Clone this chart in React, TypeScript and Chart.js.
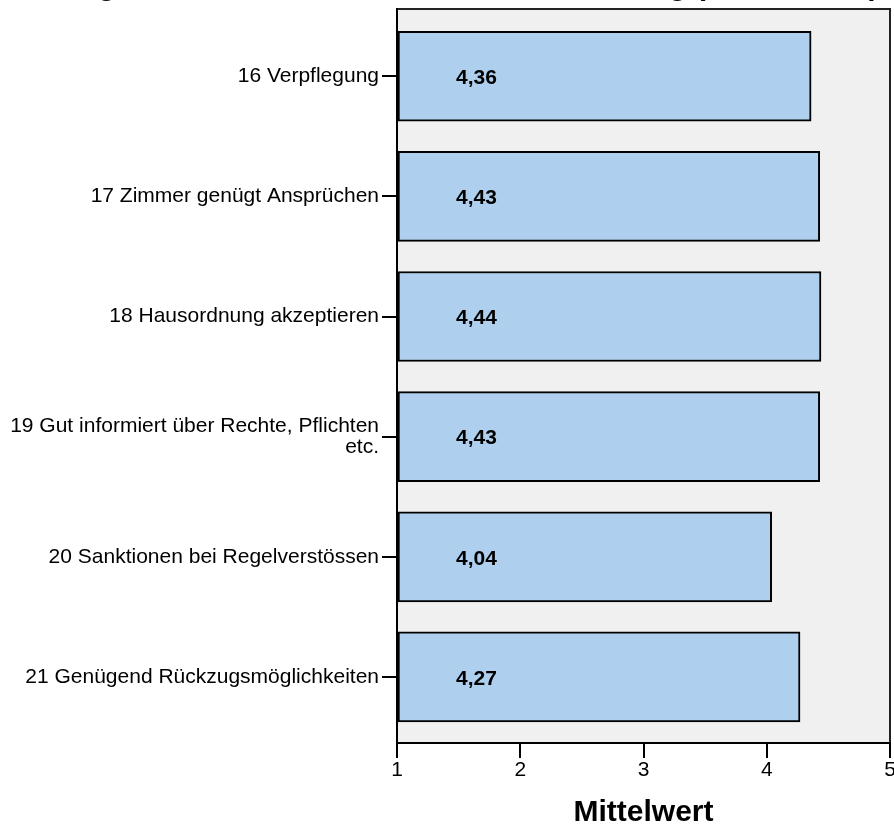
import React, { useEffect, useRef } from 'react';
import { Chart, registerables } from 'chart.js';

Chart.register(...registerables);

const FONT = '"Liberation Sans", Arial, Helvetica, sans-serif';

const titleText = 'Umfrage: Zufriedenheit mit der Wohnbetreuung (Items 16-21)';
const axisTitle = 'Mittelwert';

const categories: (string | string[])[] = [
  '16 Verpflegung',
  '17 Zimmer genügt Ansprüchen',
  '18 Hausordnung akzeptieren',
  ['19 Gut informiert über Rechte, Pflichten', 'etc.'],
  '20 Sanktionen bei Regelverstössen',
  '21 Genügend Rückzugsmöglichkeiten',
];

const means = [4.36, 4.43, 4.44, 4.43, 4.04, 4.27];

const xMin = 1;
const xMax = 5;

const framePlugin = {
  id: 'frameBg',
  beforeDraw(chart: any) {
    const { ctx, chartArea: a } = chart;
    ctx.save();
    ctx.fillStyle = '#f0f0f0';
    ctx.fillRect(a.left, a.top, a.right - a.left, a.bottom - a.top);
    ctx.strokeStyle = '#222';
    ctx.lineWidth = 2;
    ctx.strokeRect(a.left, a.top, a.right - a.left, a.bottom - a.top);
    ctx.restore();
  },
};

const valueLabelPlugin = {
  id: 'valueLabels',
  afterDatasetsDraw(chart: any) {
    const { ctx } = chart;
    const meta = chart.getDatasetMeta(0);
    const x0 = chart.scales.x.getPixelForValue(xMin) + 59;
    ctx.save();
    ctx.font = `bold 21px ${FONT}`;
    ctx.fillStyle = '#000';
    ctx.textAlign = 'left';
    ctx.textBaseline = 'middle';
    meta.data.forEach((el: any, i: number) => {
      ctx.fillText(means[i].toFixed(2).replace('.', ','), x0, el.y + 2);
    });
    ctx.restore();
  },
};

export default function App() {
  const ref = useRef<HTMLCanvasElement | null>(null);

  useEffect(() => {
    if (!ref.current) return;
    const chart = new Chart(ref.current, {
      type: 'bar',
      data: {
        datasets: [
          {
            data: means.map((v, i) => ({ x: v, y: i })),
            base: xMin,
            barThickness: 90,
            backgroundColor: '#aed0ee',
            borderColor: '#000',
            borderWidth: 2,
            borderSkipped: false,
          } as any,
        ],
      },
      options: {
        animation: false,
        responsive: false,
        maintainAspectRatio: false,
        indexAxis: 'y',
        layout: { padding: { left: 0, right: 4, top: 0, bottom: 0 } },
        plugins: {
          legend: { display: false },
          tooltip: { enabled: false },
          title: {
            display: true,
            text: titleText,
            color: '#000',
            font: { family: FONT, size: 30, weight: 'bold', lineHeight: 1.2 },
            padding: { top: 8.5, bottom: 4.5 },
          },
        },
        scales: {
          x: {
            type: 'linear',
            position: 'bottom',
            min: xMin,
            max: xMax,
            border: { display: true, color: '#000', width: 2 },
            grid: {
              display: true,
              drawOnChartArea: false,
              drawTicks: true,
              tickLength: 15,
              lineWidth: 2,
              color: '#000',
            },
            ticks: {
              stepSize: 1,
              color: '#000',
              padding: 2,
              maxRotation: 0,
              font: { family: FONT, size: 21, lineHeight: 1 },
            },
            title: {
              display: true,
              text: axisTitle,
              color: '#000',
              font: { family: FONT, size: 30, weight: 'bold', lineHeight: 1 },
              padding: 0,
            },
            afterFit: (s: any) => {
              s.height = 85;
              s.paddingLeft = 0;
              s.paddingRight = 0;
            },
          },
          y: {
            type: 'linear',
            min: -0.56,
            max: 5.55,
            reverse: true,
            offset: false,
            border: { display: true, color: '#000', width: 2 },
            grid: {
              offset: false,
              display: true,
              drawOnChartArea: false,
              drawTicks: true,
              tickLength: 15,
              lineWidth: 2,
              color: '#000',
            },
            ticks: {
              stepSize: 1,
              includeBounds: false,
              autoSkip: false,
              padding: 3,
              color: '#000',
              font: { family: FONT, size: 21, lineHeight: 1 },
              callback: (v: any) => (Number.isInteger(v) && categories[v] !== undefined ? categories[v] : ''),
            },
            afterFit: (s: any) => {
              s.width = 397;
            },
          },
        },
      } as any,
      plugins: [framePlugin, valueLabelPlugin],
    });
    return () => chart.destroy();
  }, []);

  return (
    <div style={{ position: 'absolute', left: 0, top: -40, width: 894, height: 868, overflow: 'hidden' }}>
      <canvas ref={ref} width={894} height={868} style={{ display: 'block', width: 894, height: 868 }} />
    </div>
  );
}
